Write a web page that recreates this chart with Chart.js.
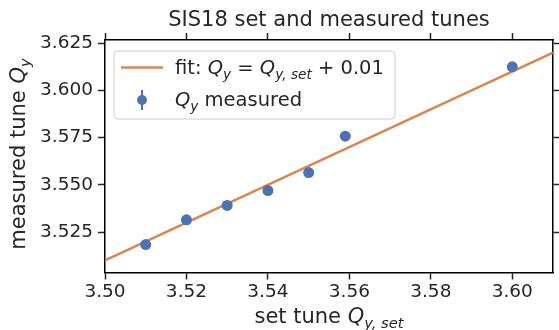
<!DOCTYPE html>
<html>
<head>
<meta charset="utf-8">
<script src="https://cdn.jsdelivr.net/npm/chart.js@4/dist/chart.umd.min.js"></script>
<style>
  html, body { margin: 0; padding: 0; background: #fff; }
  #wrap { width: 559px; height: 330px; }
</style>
</head>
<body>
<div id="wrap"><canvas id="tuneChart" width="559" height="330"></canvas></div>
<script>
// set vs measured vertical tune
const setTune = [3.51, 3.52, 3.53, 3.54, 3.55, 3.559, 3.60];
const measuredTune = [3.5184, 3.5315, 3.5391, 3.5470, 3.5565, 3.5758, 3.6125];

// linear fit, endpoints over the x range
const fitX = [3.50, 3.61];
const fitY = [3.51, 3.62];

const xTicks = [3.50, 3.52, 3.54, 3.56, 3.58, 3.60];
const yTicks = [3.525, 3.550, 3.575, 3.600, 3.625];

const BLUE = '#4c72b0';
const ORANGE = '#dd8452';
const INK = '#262626';
const FONT = '"DejaVu Sans", sans-serif';

// draws a run of plain / italic / subscript pieces, mathtext style
function mathWidth(ctx, parts, size) {
    let w = 0;
    parts.forEach(p => {
        const s = p.sub ? size * 0.7 : size;
        ctx.font = (p.i ? 'italic ' : '') + s + 'px ' + FONT;
        w += ctx.measureText(p.t).width;
    });
    return w;
}
function drawMath(ctx, parts, x, y, size, align) {
    let cx = x;
    const total = mathWidth(ctx, parts, size);
    if (align === 'center') cx = x - total / 2;
    parts.forEach(p => {
        const s = p.sub ? size * 0.7 : size;
        ctx.font = (p.i ? 'italic ' : '') + s + 'px ' + FONT;
        ctx.fillText(p.t, cx, p.sub ? y + size * 0.25 : y);
        cx += ctx.measureText(p.t).width;
    });
}

const decorations = {
    id: 'decorations',
    afterDraw(chart) {
        const ctx = chart.ctx;
        const area = chart.chartArea;
        const midX = (area.left + area.right) / 2;
        ctx.save();
        ctx.fillStyle = INK;
        ctx.textBaseline = 'alphabetic';

        // title
        ctx.font = '21px ' + FONT;
        ctx.textAlign = 'center';
        ctx.fillText('SIS18 set and measured tunes', midX, 26);
        ctx.textAlign = 'left';

        // x axis label
        drawMath(ctx, [
            { t: 'set tune ' },
            { t: 'Q', i: true },
            { t: 'y, set', i: true, sub: true }
        ], midX, 323, 21, 'center');

        // y axis label
        ctx.save();
        ctx.translate(25, 154);
        ctx.rotate(-Math.PI / 2);
        drawMath(ctx, [
            { t: 'measured tune ' },
            { t: 'Q', i: true },
            { t: 'y', i: true, sub: true }
        ], 0, 0, 21, 'center');
        ctx.restore();

        // legend
        const lx = 114, ly = 51, lw = 281, lh = 68;
        ctx.beginPath();
        ctx.roundRect(lx, ly, lw, lh, 4);
        ctx.fillStyle = 'rgba(255,255,255,0.8)';
        ctx.fill();
        ctx.strokeStyle = '#cccccc';
        ctx.lineWidth = 1;
        ctx.stroke();

        ctx.strokeStyle = ORANGE;
        ctx.lineWidth = 2.5;
        ctx.beginPath();
        ctx.moveTo(121, 67.5);
        ctx.lineTo(163, 67.5);
        ctx.stroke();

        ctx.strokeStyle = BLUE;
        ctx.lineWidth = 2;
        ctx.beginPath();
        ctx.moveTo(142, 90);
        ctx.lineTo(142, 110);
        ctx.stroke();
        ctx.fillStyle = BLUE;
        ctx.beginPath();
        ctx.arc(142, 100, 5, 0, Math.PI * 2);
        ctx.fill();

        ctx.fillStyle = INK;
        drawMath(ctx, [
            { t: 'fit: ' },
            { t: 'Q', i: true },
            { t: 'y', i: true, sub: true },
            { t: ' = ' },
            { t: 'Q', i: true },
            { t: 'y, set', i: true, sub: true },
            { t: ' + 0.01' }
        ], 175, 74, 19.5, 'left');
        drawMath(ctx, [
            { t: 'Q', i: true },
            { t: 'y', i: true, sub: true },
            { t: ' measured' }
        ], 175, 106, 19.5, 'left');
        ctx.restore();
    }
};

function axis(position, min, max, ticks, digits, labels, size) {
    return {
        type: 'linear',
        position: position,
        min: min,
        max: max,
        afterBuildTicks: scale => { scale.ticks = ticks.map(v => ({ value: v })); },
        afterFit: scale => {
            if (scale.isHorizontal()) scale.height = size; else scale.width = size;
        },
        border: { display: true, color: '#000', width: 1.5 },
        grid: {
            display: true,
            drawOnChartArea: false,
            drawTicks: true,
            tickLength: 7,
            tickWidth: 1.5,
            tickColor: INK
        },
        ticks: {
            display: labels,
            padding: position === 'bottom' ? 2 : 5,
            color: INK,
            font: { family: FONT, size: 18.5 },
            maxRotation: 0,
            autoSkip: false,
            callback: v => Number(v).toFixed(digits)
        }
    };
}

new Chart(document.getElementById('tuneChart').getContext('2d'), {
    type: 'scatter',
    data: {
        datasets: [{
            label: 'fit',
            type: 'line',
            data: fitX.map((x, i) => ({ x: x, y: fitY[i] })),
            borderColor: ORANGE,
            borderWidth: 2.5,
            pointRadius: 0,
            fill: false,
            xAxisID: 'x',
            yAxisID: 'y',
            order: 2
        }, {
            label: 'measured',
            data: setTune.map((x, i) => ({ x: x, y: measuredTune[i] })),
            backgroundColor: BLUE,
            borderColor: BLUE,
            pointRadius: 5.5,
            pointBorderWidth: 0,
            xAxisID: 'x',
            yAxisID: 'y',
            order: 1
        }]
    },
    options: {
        responsive: false,
        animation: false,
        layout: { padding: 0 },
        plugins: {
            legend: { display: false },
            tooltip: { enabled: false }
        },
        scales: {
            x: axis('bottom', 3.50, 3.61, xTicks, 2, true, 57.5),
            x2: axis('top', 3.50, 3.61, xTicks, 2, false, 40),
            y: axis('left', 3.5036, 3.6267, yTicks, 3, true, 105),
            y2: axis('right', 3.5036, 3.6267, yTicks, 3, false, 6)
        }
    },
    plugins: [decorations]
});
</script>
</body>
</html>
